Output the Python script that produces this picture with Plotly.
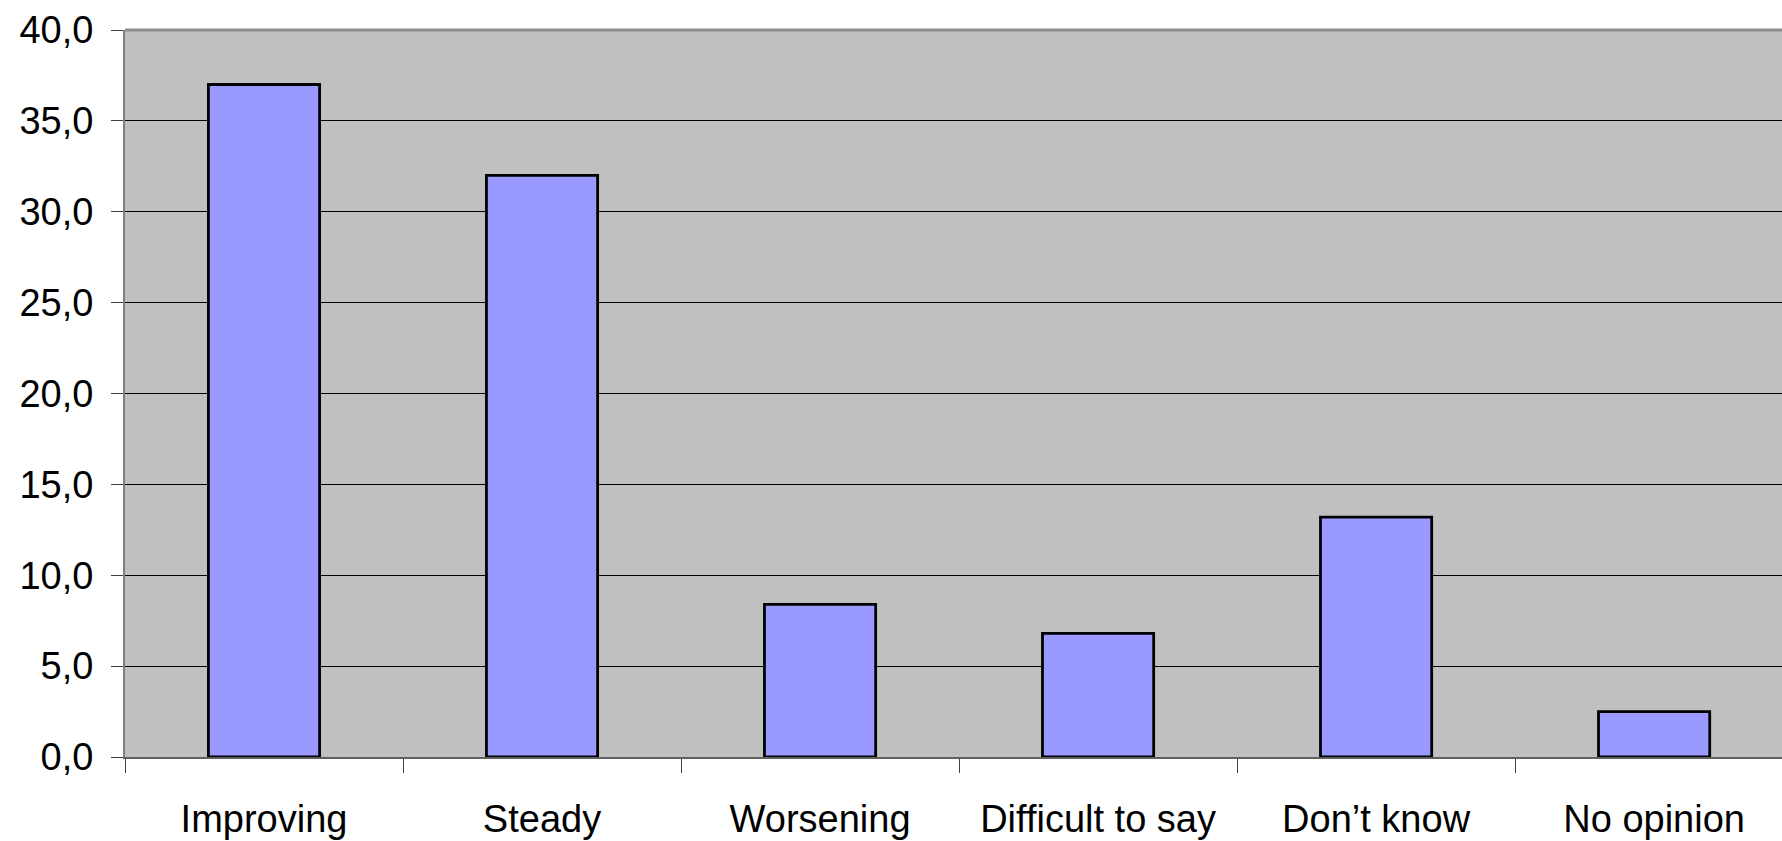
import plotly.graph_objects as go

categories = ["Improving", "Steady", "Worsening", "Difficult to say", "Don\u2019t know", "No opinion"]
values = [37.0, 32.0, 8.4, 6.8, 13.2, 2.5]
y_ticks = [0, 5, 10, 15, 20, 25, 30, 35, 40]

fig = go.Figure(go.Bar(
    x=categories, y=values,
    marker=dict(color="#9999FF", line=dict(color="#000000", width=2.8)),
    width=0.4,
))

font = dict(family="Liberation Sans, Arial, sans-serif", size=38, color="#000000")

fig.update_layout(
    width=1782, height=841,
    margin=dict(l=125, r=0, t=30, b=84),
    paper_bgcolor="#FFFFFF", plot_bgcolor="#C0C0C0",
    separators=",.",
    font=font,
    showlegend=False,
    xaxis=dict(
        type="category", range=[-0.5, 5.46], automargin=False,
        showgrid=False, zeroline=False,
        showline=True, linecolor="#606060", linewidth=2,
        ticks="outside", tickson="boundaries", ticklen=14, tickwidth=1, tickcolor="#404040",
        ticklabelstandoff=27,
        tickfont=font,
    ),
    yaxis=dict(
        range=[0, 40], tickvals=y_ticks, tickformat=".1f", automargin=False,
        showgrid=True, gridcolor="#000000", gridwidth=1,
        zeroline=False,
        showline=True, linecolor="#808080", linewidth=2,
        ticks="outside", ticklen=12, tickwidth=1, tickcolor="#404040",
        ticklabelstandoff=10,
        tickfont=font,
    ),
    shapes=[dict(type="line", xref="paper", yref="paper", x0=0, x1=1, y0=1, y1=1,
                 line=dict(color="#8C8C8C", width=3))],
)

fig.write_html(
    "out.html",
    config={"displayModeBar": False},
    post_script="document.body.style.margin='0';document.body.style.overflow='hidden';",
)
